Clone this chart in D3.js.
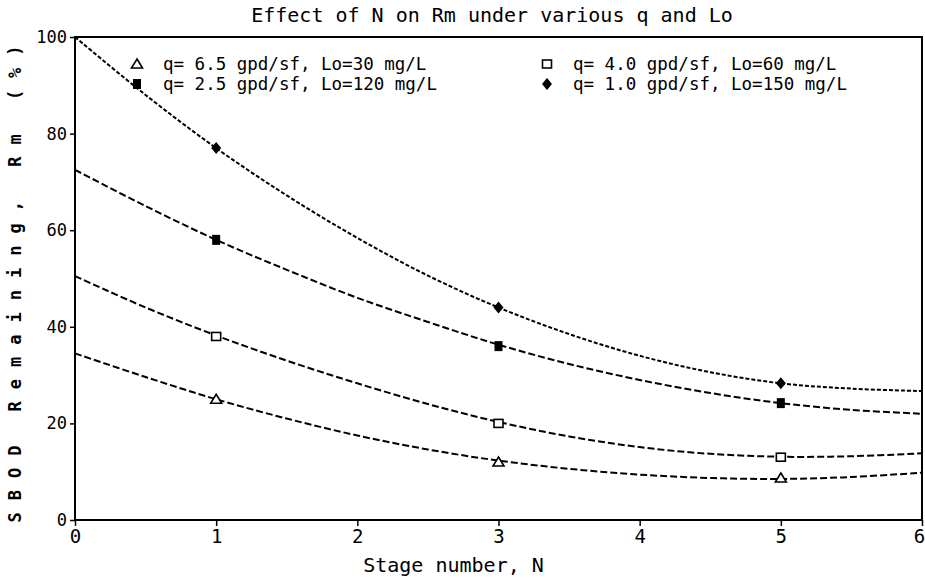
<!DOCTYPE html>
<html>
<head>
<meta charset="utf-8">
<script src="https://cdn.jsdelivr.net/npm/d3@7"></script>
<style>
  body { margin: 0; background: #fff; }
  svg text { font-family: "DejaVu Sans Mono", "Liberation Mono", monospace; fill: #000; }
</style>
</head>
<body>
<div id="chart"></div>
<script>
// stage numbers
const stages = [0, 0.5, 1, 1.5, 2, 2.5, 3, 3.5, 4, 4.5, 5, 5.5, 6];
const curveQ10 = [100, 88, 77, 67.2, 58.4, 50.6, 44, 38.5, 34, 30.6, 28.3, 27.2, 26.7];
const curveQ25 = [72.5, 65, 58, 51.8, 46, 41, 36.3, 32.3, 29, 26.3, 24.2, 22.8, 22];
const curveQ40 = [50.5, 44, 38.2, 33, 28.3, 24, 20.3, 17.3, 15.1, 13.7, 13.1, 13.2, 13.8];
const curveQ65 = [34.5, 29.6, 25, 21, 17.5, 14.6, 12.3, 10.6, 9.4, 8.7, 8.5, 8.9, 9.8];

// measured points
const obsStages = [1, 3, 5];
const obsQ10 = [77, 44, 28.3];
const obsQ25 = [58, 36, 24.2];
const obsQ40 = [38, 20, 13];
const obsQ65 = [25, 12, 8.7];

const legendLabels = [
    'q= 6.5 gpd/sf, Lo=30 mg/L',
    'q= 4.0 gpd/sf, Lo=60 mg/L',
    'q= 2.5 gpd/sf, Lo=120 mg/L',
    'q= 1.0 gpd/sf, Lo=150 mg/L'
];
const xTicks = [0, 1, 2, 3, 4, 5, 6];
const yTicks = [0, 20, 40, 60, 80, 100];

const series = [
    { curve: curveQ65, obs: obsQ65, marker: 'triangle', label: legendLabels[0], dash: '7,3' },
    { curve: curveQ40, obs: obsQ40, marker: 'open-square', label: legendLabels[1], dash: '7,3' },
    { curve: curveQ25, obs: obsQ25, marker: 'filled-square', label: legendLabels[2], dash: '7,3' },
    { curve: curveQ10, obs: obsQ10, marker: 'diamond', label: legendLabels[3], dash: '4,2' }
];

const width = 925, height = 578;
const margin = { top: 37, right: 3, bottom: 58, left: 75 };
const w = width - margin.left - margin.right;
const h = height - margin.top - margin.bottom;

const svg = d3.select('#chart').append('svg')
    .attr('width', width)
    .attr('height', height);

const g = svg.append('g')
    .attr('transform', `translate(${margin.left}, ${margin.top})`);

const x = d3.scaleLinear().domain([0, 6]).range([0, w]);
const y = d3.scaleLinear().domain([0, 100]).range([h, 0]);

function drawMarker(sel, type) {
    if (type === 'triangle') {
        sel.append('path').attr('d', 'M0,-5L5.5,4L-5.5,4Z')
            .attr('fill', '#fff').attr('stroke', '#000').attr('stroke-width', 1.6);
    } else if (type === 'open-square') {
        sel.append('rect').attr('x', -4.5).attr('y', -4).attr('width', 9).attr('height', 8)
            .attr('fill', '#fff').attr('stroke', '#000').attr('stroke-width', 1.6);
    } else if (type === 'filled-square') {
        sel.append('rect').attr('x', -4).attr('y', -5).attr('width', 8).attr('height', 10)
            .attr('fill', '#000');
    } else {
        sel.append('path').attr('d', 'M0,-6L5,0L0,6L-5,0Z').attr('fill', '#000');
    }
}

// frame
g.append('rect')
    .attr('width', w).attr('height', h)
    .attr('fill', 'none').attr('stroke', '#000').attr('stroke-width', 2);

// axes
g.append('g')
    .attr('transform', `translate(0, ${h})`)
    .call(d3.axisBottom(x).tickValues(xTicks).tickFormat(d3.format('d')).tickSize(6).tickPadding(4))
    .call(a => a.select('.domain').remove())
    .call(a => a.selectAll('line').attr('stroke-width', 1.5))
    .call(a => a.selectAll('text').attr('font-size', 19).style('font-family', '"DejaVu Sans Mono", monospace'))
    .call(a => a.selectAll('.tick:last-of-type text').attr('dx', -3));

g.append('g')
    .call(d3.axisLeft(y).tickValues(yTicks).tickSize(5).tickPadding(3))
    .call(a => a.select('.domain').remove())
    .call(a => a.selectAll('line').attr('stroke-width', 1.5))
    .call(a => a.selectAll('text').attr('font-size', 17).style('font-family', '"DejaVu Sans Mono", monospace'));

// curves
const line = d3.line()
    .x(d => x(d[0]))
    .y(d => y(d[1]))
    .curve(d3.curveCatmullRom);

series.forEach(s => {
    g.append('path')
        .datum(stages.map((n, i) => [n, s.curve[i]]))
        .attr('fill', 'none')
        .attr('stroke', '#000')
        .attr('stroke-width', 2)
        .attr('stroke-dasharray', s.dash)
        .attr('d', line);

    obsStages.forEach((n, i) => {
        const m = g.append('g').attr('transform', `translate(${x(n)}, ${y(s.obs[i])})`);
        drawMarker(m, s.marker);
    });
});

// legend
const legendPos = [[62, 27], [472, 27], [62, 47], [472, 47]];
series.forEach((s, i) => {
    const lg = g.append('g').attr('transform', `translate(${legendPos[i][0]}, ${legendPos[i][1]})`);
    drawMarker(lg, s.marker);
    lg.append('text')
        .attr('x', 26).attr('dy', '0.35em')
        .attr('font-size', 17.5)
        .text(s.label);
});

// title and axis labels
svg.append('text')
    .attr('x', 492).attr('y', 22)
    .attr('text-anchor', 'middle')
    .attr('font-size', 20)
    .text('Effect of N on Rm under various q and Lo');

svg.append('text')
    .attr('x', margin.left + w / 2 - 45).attr('y', 572)
    .attr('text-anchor', 'middle')
    .attr('font-size', 20)
    .text('Stage number, N');

svg.append('text')
    .attr('transform', 'translate(21, 278) rotate(-90)')
    .attr('text-anchor', 'middle')
    .attr('font-size', 17)
    .attr('font-weight', 'bold')
    .attr('letter-spacing', 12)
    .text('SBOD Remaining, Rm (%)');
</script>
</body>
</html>
